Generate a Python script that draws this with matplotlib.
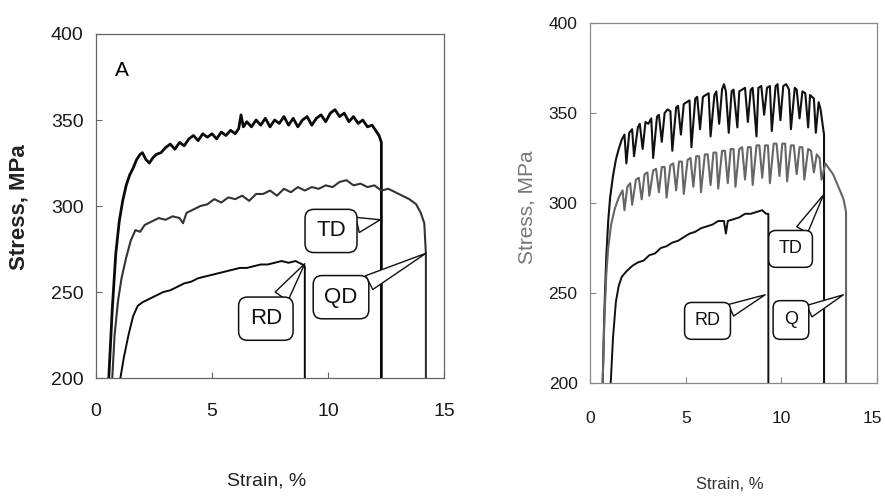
import matplotlib
matplotlib.use("Agg")
import matplotlib.pyplot as plt
from matplotlib.transforms import ScaledTranslation

# Panel A (left): stress-strain curves, three directions
LEFT_TD_X = [0.55, 0.7, 0.85, 1.0, 1.15, 1.3, 1.45, 1.6, 1.75, 1.9, 2.0, 2.15, 2.3, 2.45, 2.6, 2.8,
             3.0, 3.2, 3.4, 3.6, 3.8, 4.0, 4.2, 4.4, 4.6, 4.8, 5.0, 5.2, 5.4, 5.6, 5.8, 6.0, 6.15,
             6.25, 6.35, 6.5, 6.7, 6.9, 7.1, 7.3, 7.5, 7.7, 7.9, 8.1, 8.3, 8.5, 8.7, 8.9, 9.1,
             9.3, 9.5, 9.7, 9.9, 10.1, 10.3, 10.5, 10.7, 10.9, 11.1, 11.3, 11.5, 11.7, 11.9,
             12.05, 12.2, 12.3, 12.3]
LEFT_TD_Y = [200, 240, 272, 291, 303, 312, 318, 322, 327, 330, 331, 327, 325, 328, 330, 331,
             334, 336, 333, 337, 335, 339, 341, 338, 342, 340, 342, 339, 343, 341, 344, 342, 345,
             353, 346, 349, 346, 350, 347, 351, 346, 350, 348, 352, 347, 351, 346, 350, 352,
             347, 351, 353, 349, 354, 356, 352, 354, 349, 352, 348, 350, 346, 347,
             344, 341, 337, 200]

LEFT_QD_X = [0.7, 0.8, 0.95, 1.1, 1.3, 1.5, 1.7, 1.9, 2.1, 2.4, 2.7, 3.0, 3.3, 3.6, 3.75, 3.9,
             4.2, 4.5, 4.8, 5.1, 5.4, 5.7, 6.0, 6.3, 6.6, 6.9, 7.2, 7.5, 7.8, 8.1, 8.4, 8.7,
             9.0, 9.3, 9.6, 9.9, 10.2, 10.5, 10.8, 11.1, 11.4, 11.7, 12.0, 12.3, 12.6, 12.9,
             13.2, 13.5, 13.8, 14.0, 14.15, 14.22, 14.22]
LEFT_QD_Y = [200, 225, 245, 258, 270, 280, 286, 285, 289, 291, 293, 292, 294, 293, 290, 296,
             298, 300, 301, 304, 302, 305, 304, 306, 303, 307, 307, 309, 306, 310, 308, 311,
             309, 311, 310, 312, 311, 314, 315, 312, 313, 311, 312, 309, 310, 308,
             306, 304, 301, 296, 290, 272, 200]

LEFT_RD_X = [1.05, 1.2, 1.4, 1.6, 1.8, 2.0, 2.3, 2.6, 2.9, 3.2, 3.5, 3.8, 4.1, 4.4, 4.7, 5.0,
             5.3, 5.6, 5.9, 6.2, 6.5, 6.8, 7.1, 7.4, 7.7, 8.0, 8.3, 8.6, 8.9, 9.0, 9.0]
LEFT_RD_Y = [200, 212, 225, 236, 242, 244, 246, 248, 250, 251, 253, 255, 256, 258, 259, 260,
             261, 262, 263, 264, 264, 265, 266, 266, 267, 268, 267, 268, 266, 265, 200]

# Right panel (serrated curves: peaks and the downward spikes)
RIGHT_TD_X = [0.66, 0.75, 0.85, 0.95, 1.05, 1.2, 1.35, 1.5, 1.65, 1.8, 1.9, 2.05, 2.2, 2.3,
              2.5, 2.6, 2.75, 2.9, 3.05, 3.2, 3.3, 3.5, 3.6, 3.75, 3.9, 4.05, 4.2, 4.3, 4.5,
              4.6, 4.75, 4.9, 5.05, 5.2, 5.3, 5.5, 5.6, 5.75, 5.9, 6.05, 6.2, 6.3, 6.5, 6.6,
              6.75, 6.9, 7.0, 7.1, 7.25, 7.4, 7.5, 7.7, 7.8, 7.95, 8.1, 8.25, 8.4, 8.5, 8.7,
              8.8, 8.95, 9.1, 9.25, 9.4, 9.5, 9.7, 9.8, 9.95, 10.1, 10.25, 10.4, 10.5, 10.7,
              10.8, 10.95, 11.1, 11.25, 11.4, 11.5, 11.7, 11.8, 11.95, 12.05, 12.15, 12.23,
              12.23]
RIGHT_TD_Y = [200, 240, 270, 290, 303, 315, 324, 330, 335, 338, 322, 339, 341, 326, 342, 344,
              330, 345, 344, 347, 325, 348, 349, 334, 350, 352, 351, 329, 353, 354, 338, 355,
              356, 357, 331, 358, 359, 341, 359, 360, 361, 337, 360, 362, 344, 363, 366, 362,
              339, 362, 363, 342, 362, 363, 364, 345, 363, 364, 337, 364, 365, 349, 364, 365,
              340, 365, 366, 346, 365, 366, 363, 341, 364, 363, 347, 362, 361, 342, 360,
              358, 339, 356, 352, 344, 338, 200]

RIGHT_Q_X = [0.66, 0.75, 0.85, 0.95, 1.1, 1.3, 1.5, 1.7, 1.8, 1.95, 2.1, 2.2, 2.4, 2.55, 2.7,
             2.85, 3.0, 3.1, 3.3, 3.45, 3.6, 3.75, 3.9, 4.0, 4.2, 4.35, 4.5, 4.65, 4.8, 4.9,
             5.1, 5.25, 5.4, 5.55, 5.7, 5.8, 6.0, 6.15, 6.3, 6.45, 6.6, 6.7, 6.9, 7.05, 7.2,
             7.35, 7.5, 7.6, 7.8, 7.95, 8.1, 8.25, 8.4, 8.5, 8.7, 8.85, 9.0, 9.15, 9.3, 9.4,
             9.6, 9.75, 9.9, 10.05, 10.2, 10.3, 10.5, 10.65, 10.8, 10.95, 11.1, 11.2, 11.4,
             11.55, 11.7, 11.85, 12.0, 12.1, 12.3, 12.5, 12.7, 12.9, 13.1, 13.25, 13.38,
             13.38]
RIGHT_Q_Y = [200, 235, 260, 275, 288, 297, 303, 307, 296, 309, 311, 299, 313, 314, 302, 316,
             317, 304, 318, 319, 306, 320, 320, 303, 321, 322, 307, 323, 323, 305, 324, 325,
             309, 326, 326, 306, 327, 327, 310, 328, 328, 308, 329, 329, 311, 330, 330, 309,
             330, 331, 313, 331, 331, 310, 332, 332, 314, 332, 332, 311, 333, 333, 315, 333,
             333, 312, 332, 332, 316, 331, 331, 313, 330, 329, 317, 327, 325, 313, 322,
             319, 316, 311, 306, 302, 295, 200]

RIGHT_RD_X = [1.08, 1.2, 1.35, 1.5, 1.66, 1.9, 2.2, 2.5, 2.8, 3.1, 3.4, 3.7, 4.0, 4.3, 4.6,
              4.9, 5.2, 5.5, 5.8, 6.1, 6.4, 6.7, 7.0, 7.1, 7.2, 7.5, 7.8, 8.1, 8.4, 8.7, 9.0,
              9.2, 9.32, 9.32]
RIGHT_RD_Y = [200, 225, 245, 254, 259, 262, 265, 267, 268, 271, 272, 275, 276, 278, 279,
              281, 283, 284, 286, 287, 288, 290, 290, 283, 290, 291, 292, 294, 294, 295, 296,
              294, 294, 200]

X_TICKS = [0, 5, 10, 15]
Y_TICKS = [200, 250, 300, 350, 400]


def callout(ax, text, xy, xytext, fontsize, family, pad):
    ax.annotate(
        text, xy=xy, xytext=xytext, ha="center", va="center",
        fontsize=fontsize, family=family, color="#111111",
        bbox=dict(boxstyle=f"round,pad={pad},rounding_size=0.4", fc="white", ec="#111111", lw=1.1),
        arrowprops=dict(arrowstyle="wedge,tail_width=0.7,shrink_factor=0.5", fc="white",
                        ec="#111111", lw=1.0, shrinkA=0, shrinkB=0),
    )


def style_axes(ax, spine_color, family, tick_size, pad_x, pad_y):
    ax.set_xlim(0, 15)
    ax.set_ylim(200, 400)
    ax.set_xticks(X_TICKS)
    ax.set_yticks(Y_TICKS)
    for spine in ax.spines.values():
        spine.set_color(spine_color)
        spine.set_linewidth(0.9)
    ax.tick_params(direction="in", length=4, width=0.8, color=spine_color,
                   labelsize=tick_size, labelcolor="#1a1a1a")
    ax.tick_params(axis="x", pad=pad_x)
    ax.tick_params(axis="y", pad=pad_y)
    for label in ax.get_xticklabels() + ax.get_yticklabels():
        label.set_family(family)


fig = plt.figure(figsize=(8.85, 4.97), dpi=100)

sans = ["Liberation Sans", "DejaVu Sans"]

# left panel
ax1 = fig.add_axes([0.1085, 0.2394, 0.3932, 0.6922])
ax1.plot(LEFT_TD_X, LEFT_TD_Y, color="#0a0a0a", lw=2.0)
ax1.plot(LEFT_QD_X, LEFT_QD_Y, color="#333333", lw=1.5)
ax1.plot(LEFT_RD_X, LEFT_RD_Y, color="#0a0a0a", lw=1.4)
style_axes(ax1, "#666666", sans, 14, 18, 9)
ax1.text(1.1, 379, "A", fontsize=15, family=sans, ha="center", va="center")
callout(ax1, "TD", (12.25, 292), (10.13, 285.5), 16, sans, 0.5)
callout(ax1, "QD", (14.22, 272.5), (10.56, 247), 16, sans, 0.5)
callout(ax1, "RD", (9.0, 266.5), (7.32, 234.5), 16, sans, 0.5)
ax1.set_xlabel("Strain, %", fontsize=14, family=sans, color="#222222")
ax1.set_ylabel("Stress, MPa", fontsize=16, family=sans, color="#222222", fontweight="bold")
ax1.xaxis.set_label_coords(0.491, -0.276)
ax1.yaxis.set_label_coords(-0.19, 0.497)

# right panel
ax2 = fig.add_axes([0.6667, 0.2294, 0.3243, 0.7243])
ax2.plot(RIGHT_TD_X, RIGHT_TD_Y, color="#111111", lw=1.5)
ax2.plot(RIGHT_Q_X, RIGHT_Q_Y, color="#666666", lw=1.5)
ax2.plot(RIGHT_RD_X, RIGHT_RD_Y, color="#111111", lw=1.4)
style_axes(ax2, "#888888", sans, 12.5, 20, 9)
# last x tick label sits on the figure edge: right-align it so it stays inside
last = ax2.get_xticklabels()[-1]
last.set_horizontalalignment("right")
last.set_transform(last.get_transform() + ScaledTranslation(5 / 100, 0, fig.dpi_scale_trans))
callout(ax2, "TD", (12.2, 304.5), (10.48, 274.5), 13, sans, 0.55)
callout(ax2, "RD", (9.15, 249), (6.14, 234.5), 13, sans, 0.55)
callout(ax2, "Q", (13.24, 249), (10.5, 235), 13, sans, 0.6)
ax2.set_xlabel("Strain, %", fontsize=12, family=sans, color="#333333")
ax2.set_ylabel("Stress, MPa", fontsize=15, family=sans, color="#777777")
ax2.xaxis.set_label_coords(0.488, -0.261)
ax2.yaxis.set_label_coords(-0.186, 0.489)

fig.savefig("out.png", dpi=100)
